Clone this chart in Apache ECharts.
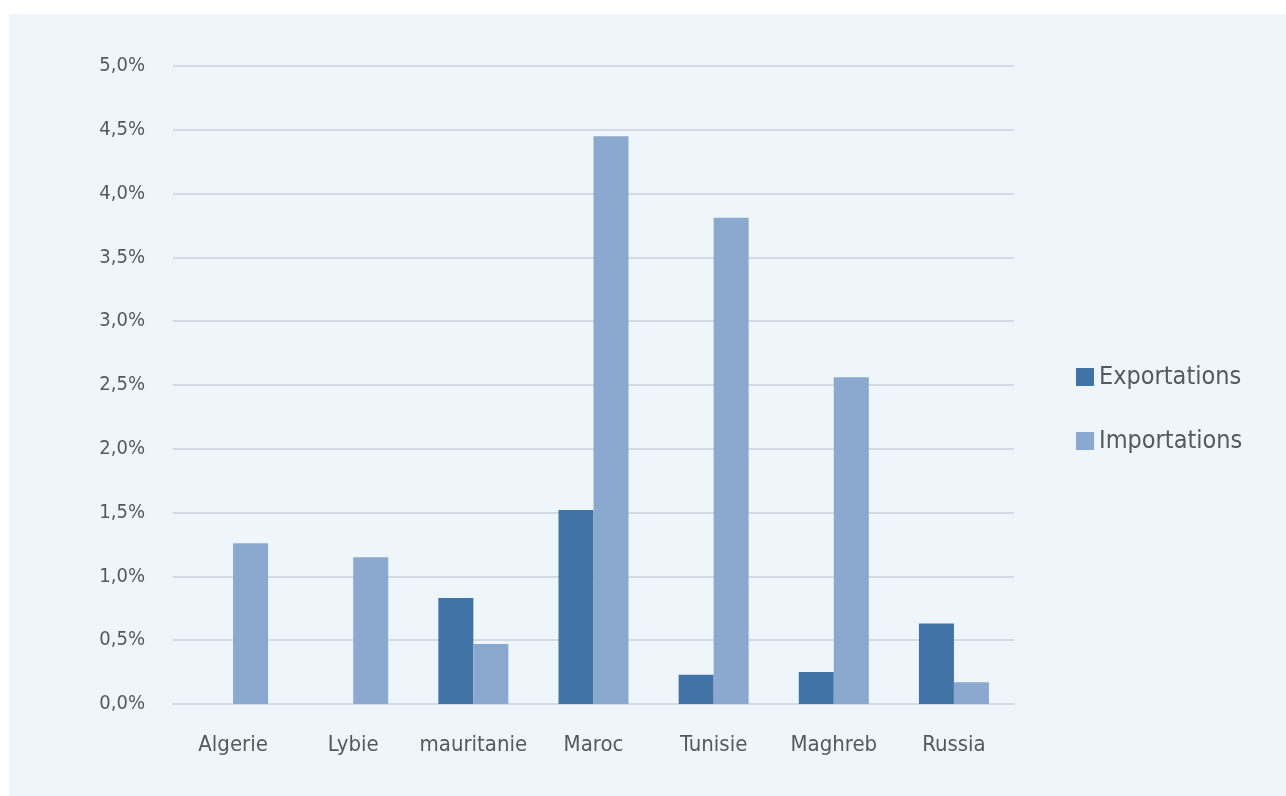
<!DOCTYPE html>
<html>
<head>
<meta charset="utf-8">
<script src="https://cdn.jsdelivr.net/npm/echarts@6/dist/echarts.min.js"></script>
<style>
  html, body { margin: 0; padding: 0; background: #ffffff; }
  #chart { width: 1286px; height: 796px; }
</style>
</head>
<body>
<div id="chart"></div>
<script>
// Country groups along the horizontal axis
const categories = ['Algerie', 'Lybie', 'mauritanie', 'Maroc', 'Tunisie', 'Maghreb', 'Russia'];
// Shares in percent
const exportations = [0, 0, 0.83, 1.52, 0.23, 0.25, 0.63];
const importations = [1.26, 1.15, 0.47, 4.45, 3.81, 2.56, 0.17];
const seriesNames = ['Exportations', 'Importations'];
const yTicks = { min: 0, max: 5, interval: 0.5 };

const FONT = '"DejaVu Sans Condensed", "Liberation Sans Narrow", sans-serif';
const TEXT = '#55595e';
const GRID = '#d3dae1';

const chart = echarts.init(document.getElementById('chart'), null, { renderer: 'canvas' });

chart.setOption({
  backgroundColor: '#ffffff',
  animation: false,
  graphic: [{
    type: 'rect',
    z: -10,
    shape: { x: 9, y: 14, width: 1286, height: 796 },
    style: { fill: '#eef6fc' }
  }],
  grid: { left: 173, right: 272, top: 66, bottom: 92, containLabel: false },
  legend: {
    orient: 'vertical',
    left: 1071,
    top: 358,
    itemWidth: 18,
    itemHeight: 18,
    itemGap: 36,
    icon: 'rect',
    textStyle: { fontFamily: FONT, fontSize: 25, color: TEXT, lineHeight: 28 },
    data: seriesNames
  },
  xAxis: {
    type: 'category',
    data: categories,
    axisLine: { show: true, lineStyle: { color: GRID, width: 2 } },
    axisTick: { show: false },
    axisLabel: { interval: 0, fontFamily: FONT, fontSize: 22, color: TEXT, margin: 30 }
  },
  yAxis: {
    type: 'value',
    min: yTicks.min,
    max: yTicks.max,
    interval: yTicks.interval,
    axisLine: { show: false },
    axisTick: { show: false },
    splitLine: { lineStyle: { color: GRID, width: 2 } },
    axisLabel: {
      fontFamily: FONT, fontSize: 20, color: TEXT, margin: 28,
      formatter: v => v.toFixed(1).replace('.', ',') + '%'
    }
  },
  series: [
    {
      name: seriesNames[0],
      type: 'bar',
      data: exportations,
      barWidth: 35,
      barGap: '0%',
      itemStyle: { color: '#4273a6' }
    },
    {
      name: seriesNames[1],
      type: 'bar',
      data: importations,
      barWidth: 35,
      barGap: '0%',
      itemStyle: { color: '#8ba9ce' }
    }
  ]
});
</script>
</body>
</html>
